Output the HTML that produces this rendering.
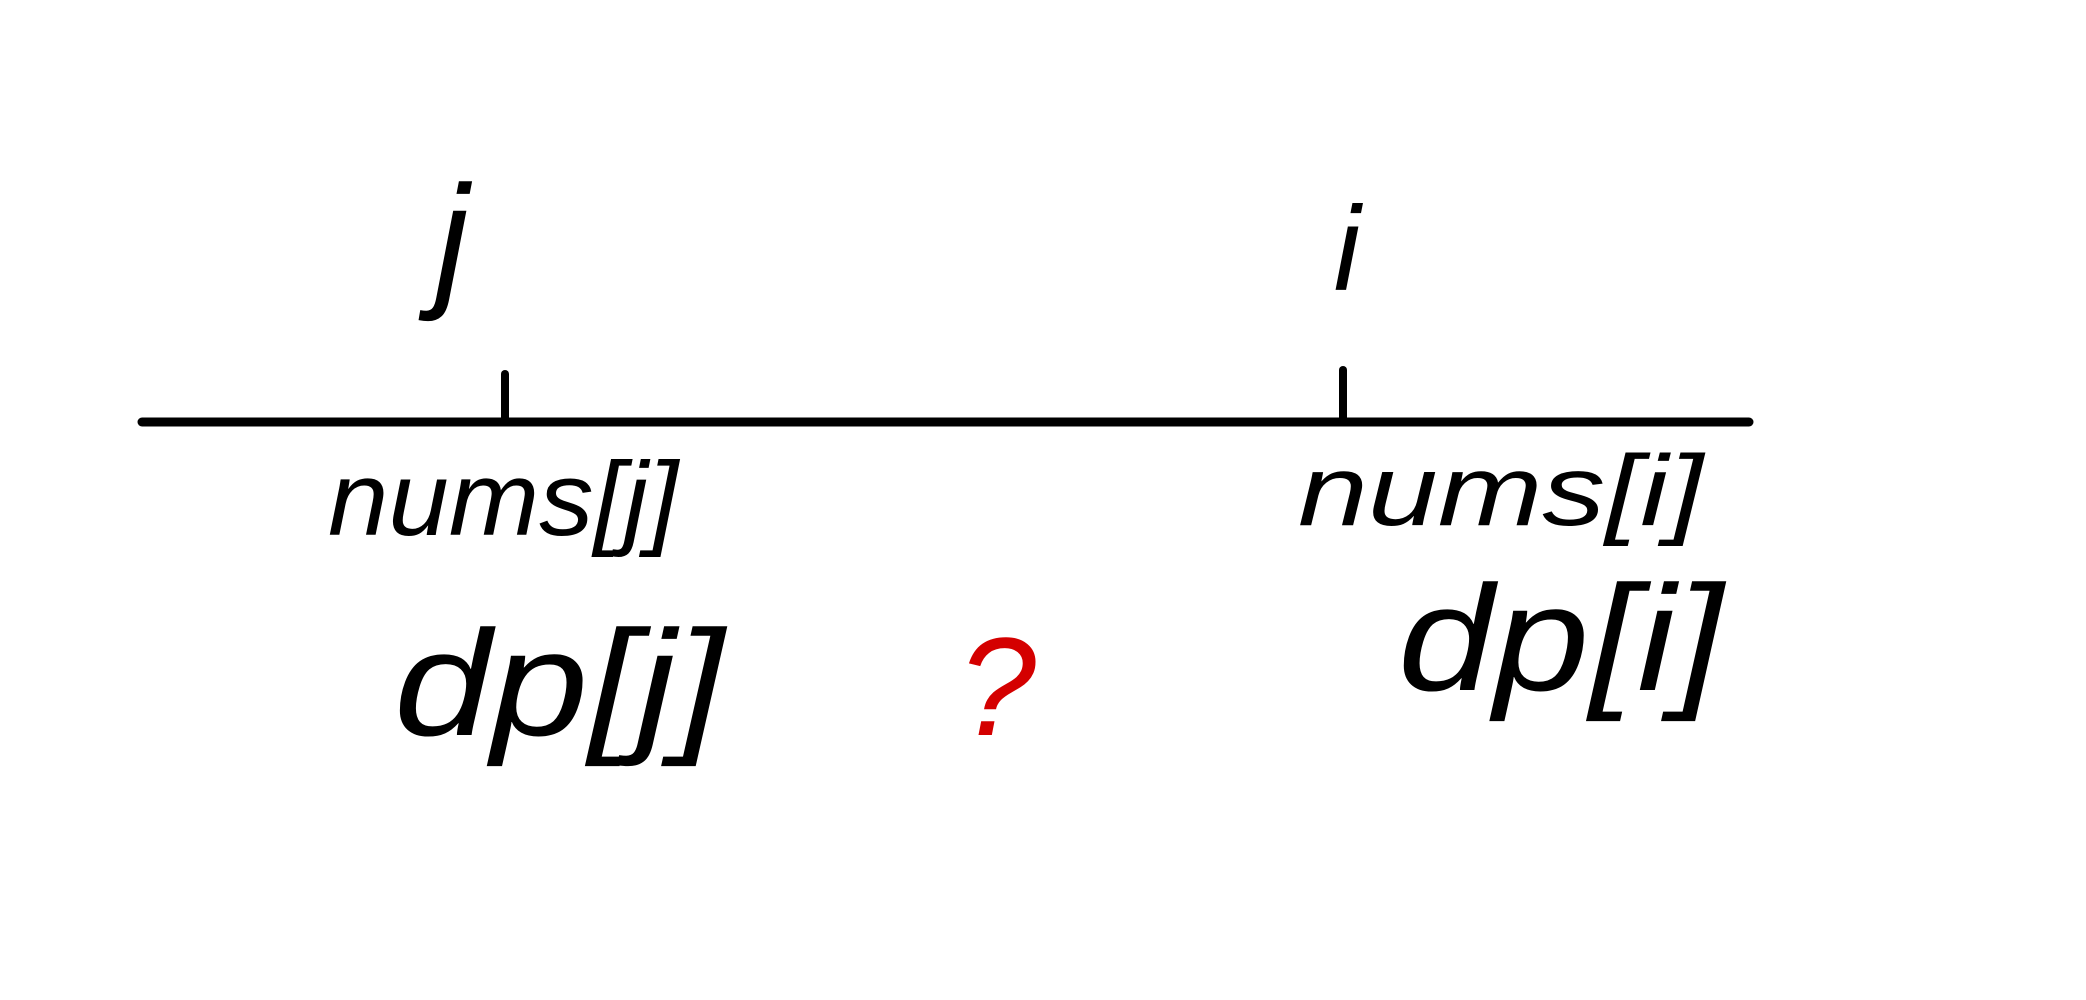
<!DOCTYPE html>
<html>
<head>
<meta charset="utf-8">
<style>
  html,body{margin:0;padding:0;background:#fff;}
  svg{display:block;}
  text{font-family:"Liberation Sans",sans-serif;font-style:italic;font-weight:normal;}
</style>
</head>
<body>
<svg width="2086" height="1000" viewBox="0 0 2086 1000">
  <line x1="142" y1="422" x2="1749" y2="422" stroke="#000" stroke-width="9" stroke-linecap="round"/>
  <line x1="505" y1="374" x2="505" y2="422" stroke="#000" stroke-width="8" stroke-linecap="round"/>
  <line x1="1343" y1="370" x2="1343" y2="422" stroke="#000" stroke-width="8" stroke-linecap="round"/>

  <text x="452" y="290" font-size="150" text-anchor="middle" fill="#000">j</text>
  <text x="1347" y="290" font-size="120" text-anchor="middle" fill="#000">i</text>

  <text x="328" y="535" font-size="105" textLength="350" lengthAdjust="spacingAndGlyphs" fill="#000">nums[j]</text>
  <text x="394" y="735" font-size="150" textLength="330" lengthAdjust="spacingAndGlyphs" fill="#000">dp[j]</text>

  <text x="997" y="735" font-size="140" text-anchor="middle" fill="#d40000">?</text>

  <text x="1298" y="525" font-size="100" textLength="405" lengthAdjust="spacingAndGlyphs" fill="#000">nums[i]</text>
  <text x="1398" y="690" font-size="150" textLength="325" lengthAdjust="spacingAndGlyphs" fill="#000">dp[i]</text>
</svg>
</body>
</html>
